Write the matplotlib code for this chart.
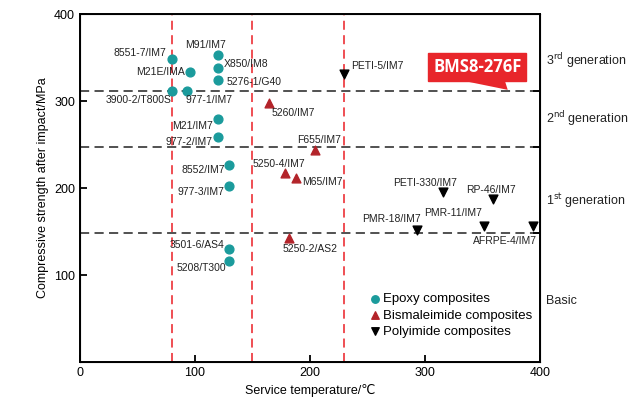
import matplotlib
matplotlib.use('Agg')
import matplotlib.pyplot as plt

plt.rcParams['font.family'] = ['Liberation Sans', 'DejaVu Sans']

# epoxy composites
epoxy_names = ['8551-7/IM7', 'M91/IM7', 'X850/IM8', '5276-1/G40', 'M21E/IMA',
               '3900-2/T800S', '977-1/IM7', 'M21/IM7', '977-2/IM7', '8552/IM7',
               '977-3/IM7', '3501-6/AS4', '5208/T300']
epoxy_temp = [80, 120, 120, 120, 96, 80, 93, 120, 120, 130, 130, 130, 130]
epoxy_cai = [349, 353, 338, 324, 334, 312, 312, 279, 259, 227, 203, 130, 116]

# bismaleimide composites
bmi_names = ['5260/IM7', 'F655/IM7', '5250-4/IM7', 'M65/IM7', '5250-2/AS2']
bmi_temp = [164, 204, 178, 188, 182]
bmi_cai = [298, 244, 217, 212, 143]

# polyimide composites
pi_names = ['PETI-5/IM7', 'PETI-330/IM7', 'RP-46/IM7', 'PMR-18/IM7',
            'PMR-11/IM7', 'AFRPE-4/IM7']
pi_temp = [230, 316, 359, 293, 351, 394]
pi_cai = [331, 195, 187, 152, 157, 157]

temp_limits = [80, 150, 230]
gen_limits = [312, 247, 148]
gen_labels = ['3$^{\\rm rd}$ generation', '2$^{\\rm nd}$ generation',
              '1$^{\\rm st}$ generation', 'Basic']
gen_label_y = [347, 280, 186, 70]

# label offsets in points (dx, dy, ha)
offsets = {
    '8551-7/IM7': (-4, 4, 'right'), 'M91/IM7': (-9, 7, 'center'),
    'X850/IM8': (4, 3, 'left'), '5276-1/G40': (6, -1, 'left'),
    'M21E/IMA': (-4, 0, 'right'), '3900-2/T800S': (0, -7, 'right'),
    '977-1/IM7': (-1, -7, 'left'), 'M21/IM7': (-4, -5, 'right'),
    '977-2/IM7': (-4, -4, 'right'), '8552/IM7': (-3, -4, 'right'),
    '977-3/IM7': (-4, -5, 'right'), '3501-6/AS4': (-4, 3, 'right'),
    '5208/T300': (-2, -5, 'right'),
    '5260/IM7': (2, -7, 'left'), 'F655/IM7': (3, 7, 'center'),
    '5250-4/IM7': (-4, 7, 'center'), 'M65/IM7': (4, -3, 'left'),
    '5250-2/AS2': (-5, -8, 'left'),
    'PETI-5/IM7': (5, 6, 'left'), 'PETI-330/IM7': (-13, 7, 'center'),
    'RP-46/IM7': (-1, 7, 'center'), 'PMR-18/IM7': (3, 8, 'right'),
    'PMR-11/IM7': (-1, 9, 'right'), 'AFRPE-4/IM7': (3, -11, 'right'),
}

teal = '#1b9b9c'
darkred = '#b3242a'
red = '#e8262b'

fig = plt.figure(figsize=(6.37, 4.05), dpi=100)
ax = fig.add_axes([0.1256, 0.106, 0.722, 0.859])

for t in temp_limits:
    ax.axvline(t, color='#ee4045', ls=(0, (5, 3)), lw=1.3, zorder=1)
for g in gen_limits:
    ax.axhline(g, color='#222222', ls=(0, (6, 3.5)), lw=1.1, zorder=1)

ax.scatter(epoxy_temp, epoxy_cai, s=40, marker='o', color=teal,
           label='Epoxy composites', zorder=3)
ax.scatter(bmi_temp, bmi_cai, s=40, marker='^', color=darkred,
           label='Bismaleimide composites', zorder=3)
ax.scatter(pi_temp, pi_cai, s=40, marker='v', color='black',
           label='Polyimide composites', zorder=3)

for names, xs, ys in [(epoxy_names, epoxy_temp, epoxy_cai),
                      (bmi_names, bmi_temp, bmi_cai),
                      (pi_names, pi_temp, pi_cai)]:
    for n, x, y in zip(names, xs, ys):
        dx, dy, ha = offsets[n]
        ax.annotate(n, (x, y), xytext=(dx, dy), textcoords='offset points',
                    ha=ha, va='center', fontsize=7.5, color='#222222')

# BMS8-276F callout
tip = (372, gen_limits[0] + 1)
ax.text(345.5, 339.5, 'BMS8-276F', ha='center', va='center', fontsize=12,
        fontweight='bold', family=['Open Sans', 'DejaVu Sans'], color='white',
        bbox=dict(boxstyle='square,pad=0.3', fc=red, ec=red), zorder=4)
ax.fill([333, 369.5, tip[0]], [323.5, 323.5, tip[1]], color=red, lw=0,
        zorder=4)

for lab, y in zip(gen_labels, gen_label_y):
    ax.text(1.013, y, lab, transform=ax.get_yaxis_transform(),
            ha='left', va='center', fontsize=9, color='#222222')

ax.set_xlim(0, 400)
ax.set_ylim(0, 400)
ax.set_xticks([0, 100, 200, 300, 400])
ax.set_yticks([100, 200, 300, 400])
ax.tick_params(direction='in', length=5, width=1.3, labelsize=9)
ax.set_xlabel('Service temperature/℃', fontsize=9)
ax.set_ylabel('Compressive strength after impact/MPa', fontsize=9)
for s in ax.spines.values():
    s.set_linewidth(1.4)

ax2 = ax.twinx()
ax2.set_ylim(0, 400)
ax2.set_yticks(gen_limits)
ax2.set_yticklabels([])
ax2.tick_params(direction='in', length=5, width=1.3)

ax.legend(loc='lower left', bbox_to_anchor=(0.608, 0.043), frameon=False,
          fontsize=9.5, handletextpad=0.1, handlelength=1.0, labelspacing=0.3,
          borderpad=0.2, markerscale=0.85)

fig.savefig('out.png', dpi=100)
